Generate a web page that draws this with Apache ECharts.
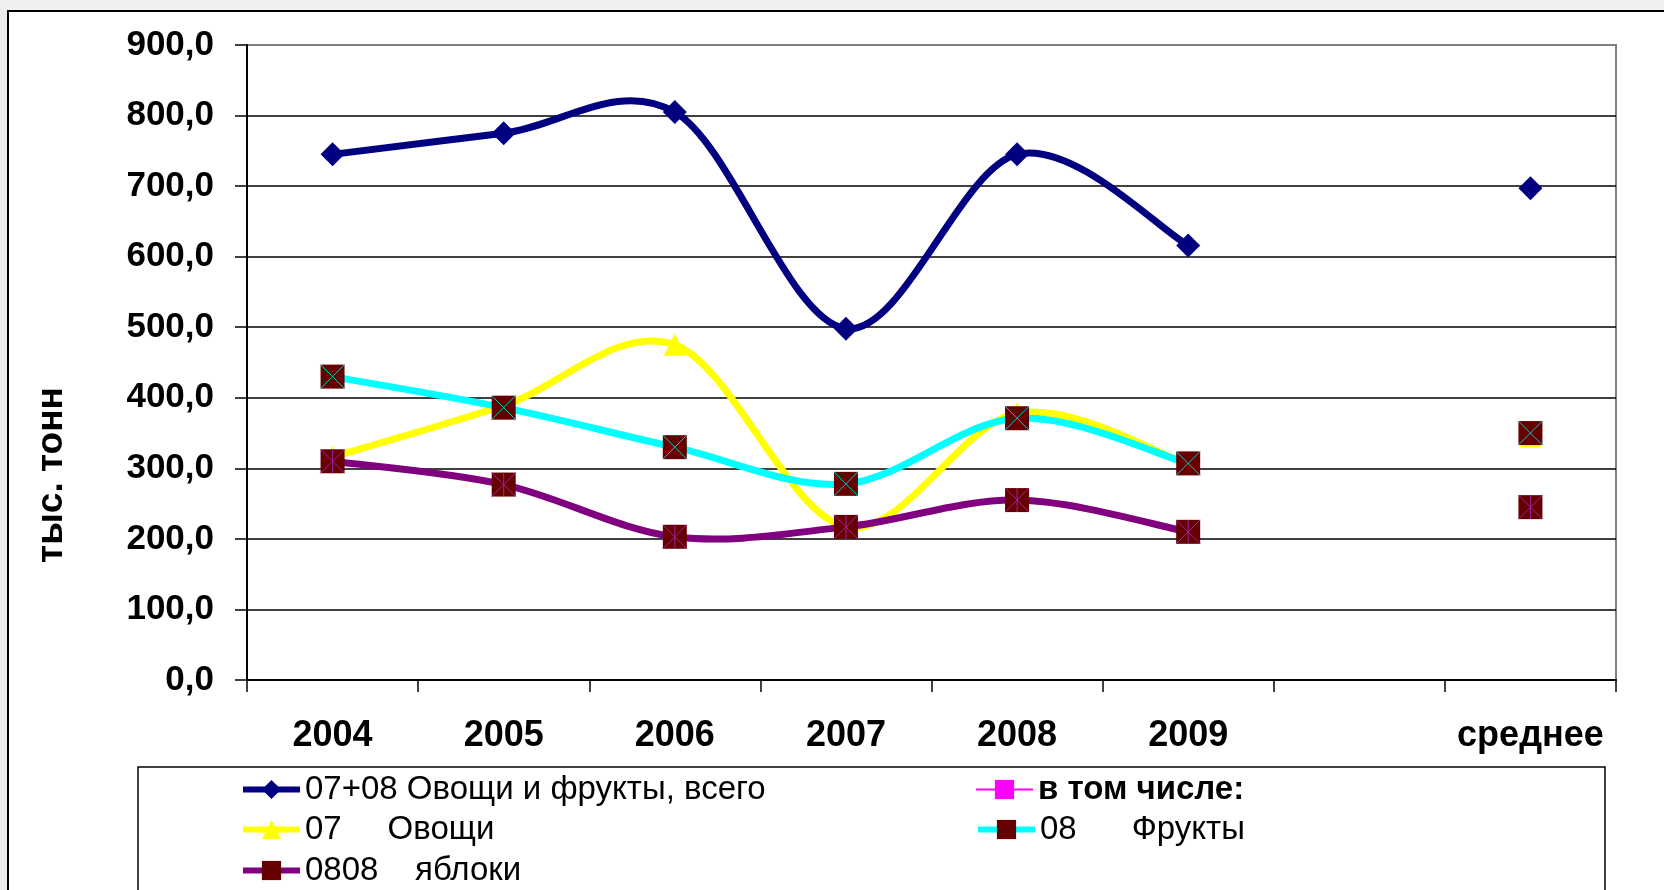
<!DOCTYPE html>
<html>
<head>
<meta charset="utf-8">
<style>
  html, body { margin: 0; padding: 0; background: #fff; }
  #chart { width: 1664px; height: 890px; }
</style>
<script src="https://cdn.jsdelivr.net/npm/echarts@6/dist/echarts.min.js"></script>
</head>
<body>
<div id="chart"></div>
<script>
// categories (index 6 is the empty slot before the average)
var years = ['2004', '2005', '2006', '2007', '2008', '2009', '', 'среднее'];
var yTicks = [0, 100, 200, 300, 400, 500, 600, 700, 800, 900];

var total   = [745, 775, 805, 498, 745, 616, null, 697];
var vegs    = [316, 389, 475, 217, 378, 306, null, 345];
var fruits  = [430, 386, 330, 278, 371, 307, null, 350];
var apples  = [310, 277, 203, 217, 255, 210, null, 245];
var inclusive = [null, null, null, null, null, null, null, null];

var names = {
  total: '07+08 Овощи и фрукты, всего',
  incl: 'в том числе:',
  vegs: '07     Овощи',
  fruits: '08      Фрукты',
  apples: '0808    яблоки'
};

var font = 'Arial, "Liberation Sans", sans-serif';
var chart = echarts.init(document.getElementById('chart'));

// Excel-like smoothed line: cubic bezier through points, tangents from neighbours / 6
function curveSeries(values, color) {
  return {
    type: 'custom', silent: true, z: 2,
    data: values.map(function (v, i) { return [i, v]; }),
    renderItem: function (params, api) {
      var i = params.dataIndex, n = values.length;
      if (values[i] == null || i + 1 >= n || values[i + 1] == null) return;
      function pt(k) { return api.coord([k, values[k]]); }
      var p1 = pt(i), p2 = pt(i + 1);
      var p0 = (i > 0 && values[i - 1] != null) ? pt(i - 1) : p1;
      var p3 = (i + 2 < n && values[i + 2] != null) ? pt(i + 2) : p2;
      return {
        type: 'bezierCurve',
        shape: {
          x1: p1[0], y1: p1[1],
          cpx1: p1[0] + (p2[0] - p0[0]) / 6, cpy1: p1[1] + (p2[1] - p0[1]) / 6,
          cpx2: p2[0] - (p3[0] - p1[0]) / 6, cpy2: p2[1] - (p3[1] - p1[1]) / 6,
          x2: p2[0], y2: p2[1]
        },
        style: { stroke: color, lineWidth: 7, fill: null, lineCap: 'round' }
      };
    }
  };
}

// markers only; the curve is drawn by curveSeries
function markerSeries(name, data, color, symbol, symbolColor, size) {
  return {
    name: name, type: 'line', data: data, z: 3,
    symbol: symbol, symbolSize: size,
    lineStyle: { color: color, width: 7, opacity: 0 },
    itemStyle: { color: symbolColor, borderWidth: 0 }
  };
}

// thin cross lines drawn on top of the square markers
function crossSeries(data, color, path) {
  return {
    type: 'line', data: data, silent: true, z: 5,
    lineStyle: { opacity: 0 },
    symbol: path, symbolSize: 24,
    itemStyle: { color: 'transparent', borderColor: color, borderWidth: 1 }
  };
}

var legendText = { color: '#000', fontSize: 33, fontFamily: font };

function legendItem(name, left, top, color, width, weight) {
  return {
    data: [name], left: left, top: top,
    itemWidth: 57, itemHeight: 24,
    lineStyle: { color: color, width: width, opacity: 1 },
    textStyle: Object.assign({ fontWeight: weight || 'normal' }, legendText)
  };
}

var option = {
  backgroundColor: '#fff',
  animation: false,
  graphic: [
    { type: 'rect', shape: { x: 0, y: 0, width: 8, height: 890 }, style: { fill: '#ececec' }, z: -10 },
    { type: 'rect', shape: { x: 0, y: 0, width: 1664, height: 10 }, style: { fill: '#efefef' }, z: -10 },
    { type: 'rect', shape: { x: 8, y: 11, width: 1680, height: 900 }, style: { fill: 'none', stroke: '#000', lineWidth: 2 }, z: -9 },
    { type: 'rect', shape: { x: 138, y: 767, width: 1467, height: 200 }, style: { fill: 'none', stroke: '#000', lineWidth: 1.5 } },
    {
      type: 'text', x: 52, y: 475, rotation: Math.PI / 2,
      style: {
        text: 'тыс. тонн', fill: '#000', font: 'bold 37px ' + font,
        align: 'center', verticalAlign: 'middle'
      }
    }
  ],
  grid: {
    left: 247, right: 48, top: 45, bottom: 210,
    show: true, borderColor: '#808080', borderWidth: 2, backgroundColor: '#fff'
  },
  legend: [
    legendItem(names.total, 235, 768, '#000080', 6),
    legendItem(names.vegs, 235, 808, '#ffff00', 6),
    legendItem(names.apples, 235, 849, '#800080', 6),
    legendItem(names.incl, 970, 768, '#ff00ff', 2, 'bold'),
    legendItem(names.fruits, 970, 808, '#00ffff', 6)
  ],
  xAxis: {
    type: 'category', data: years, boundaryGap: true,
    axisLine: { lineStyle: { color: '#000', width: 2 } },
    axisTick: { show: true, length: 12, interval: 0, lineStyle: { color: '#000', width: 1.5 } },
    axisLabel: { interval: 0, margin: 38, color: '#000', fontSize: 36, fontWeight: 'bold', fontFamily: font },
    splitLine: { show: false }
  },
  yAxis: {
    type: 'value', min: yTicks[0], max: yTicks[yTicks.length - 1], interval: 100,
    axisLine: { show: true, lineStyle: { color: '#000', width: 2 } },
    axisTick: { show: true, length: 12, lineStyle: { color: '#000', width: 1.5 } },
    axisLabel: {
      margin: 33, color: '#000', fontSize: 35, fontWeight: 'bold', fontFamily: font,
      formatter: function (v) { return v.toFixed(1).replace('.', ','); }
    },
    splitLine: {
      lineStyle: {
        color: ['#000', '#000', '#000', '#000', '#000', '#000', '#000', '#000', '#000', '#808080'],
        width: 1.5
      }
    }
  },
  series: [
    curveSeries(total, '#000080'),
    markerSeries(names.total, total, '#000080', 'diamond', '#000080', 24),
    {
      name: names.incl, type: 'line', data: inclusive,
      symbol: 'rect', symbolSize: 14,
      lineStyle: { color: '#ff00ff', width: 2 },
      itemStyle: { color: '#ff00ff' }
    },
    curveSeries(vegs, '#ffff00'),
    markerSeries(names.vegs, vegs, '#ffff00', 'triangle', '#ffff00', 22),
    curveSeries(fruits, '#00ffff'),
    markerSeries(names.fruits, fruits, '#00ffff', 'rect', '#660000', 24),
    curveSeries(apples, '#800080'),
    markerSeries(names.apples, apples, '#800080', 'rect', '#660000', 24),
    crossSeries(fruits, '#00cccc', 'path://M0,0L10,10M10,0L0,10'),
    crossSeries(apples, '#a020a0', 'path://M0,0L10,10M10,0L0,10M5,0L5,10')
  ]
};

chart.setOption(option);
</script>
</body>
</html>
